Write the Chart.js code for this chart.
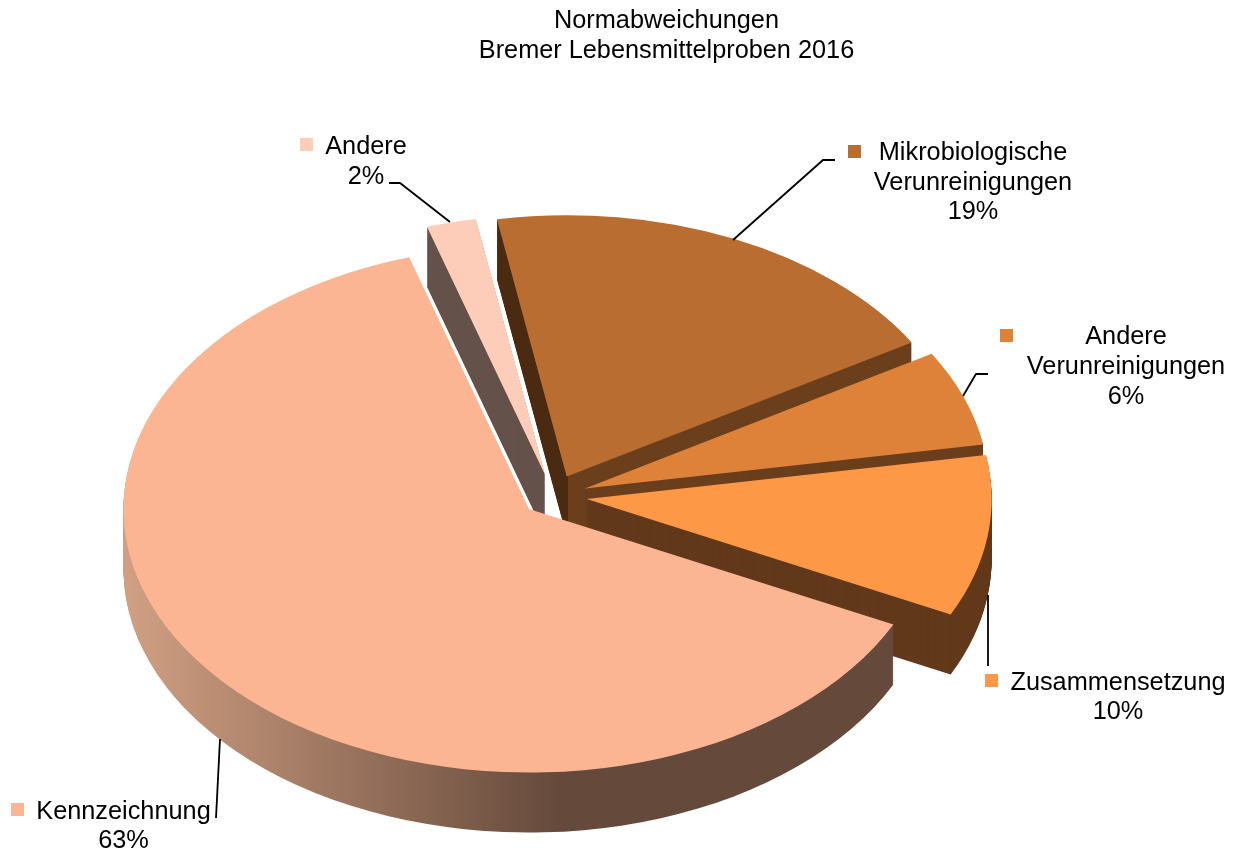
<!DOCTYPE html>
<html lang="de">
<head>
<meta charset="utf-8">
<title>Normabweichungen</title>
<style>html,body{margin:0;padding:0;background:#fff}canvas{display:block}</style>
<script src="https://cdn.jsdelivr.net/npm/chart.js@4"></script>
</head>
<body>
<canvas id="c" width="1233" height="852"></canvas>
<script>
const titleLines = ['Normabweichungen', 'Bremer Lebensmittelproben 2016'];
const categories = ['Kennzeichnung', 'Andere', 'Mikrobiologische Verunreinigungen', 'Andere Verunreinigungen', 'Zusammensetzung'];
const shares = [63, 2, 19.2, 5.9, 9.9];

const topColors = ['#FBB592', '#FDCDB9', '#B96D31', '#DE8239', '#FD9846'];

// geometry of the tilted pie (layout only)
const CX = 552, CY = 496, RADIUS = 404, TILT = 0.65, DEPTH = 60, EXPLODE = 33, ROTATION = 116;
const sliceNudge = [[2, -1], [1, 0], [1, 0], [2, 0], [2, 0]];
const sliceRadius = [405.5, 400, 402, 404, 405];

// label layout: lines, marker position, text centre, line centres, leader polyline
const labelLayout = [
  {lines:['Kennzeichnung'], marker:[11,803], cx:123.5, ys:[812,841], leader:[[220,739],[216,818]]},
  {lines:['Andere'], marker:[300,138], cx:366, ys:[147,177], leader:[[389,183],[400,183],[450,222]]},
  {lines:['Mikrobiologische','Verunreinigungen'], marker:[848,145], cx:973, ys:[153,183,212], leader:[[835,160],[823,160],[733,240]]},
  {lines:['Andere','Verunreinigungen'], marker:[1000,329], cx:1126, ys:[337,367,397], leader:[[988,374],[976,374],[963,396]]},
  {lines:['Zusammensetzung'], marker:[985,674], cx:1118, ys:[683,712], leader:[[988,595],[988,666]]}
];

function ghost(arc, i, fill) {
  const g = Object.create(arc);
  const mid = (arc.startAngle + arc.endAngle) / 2;
  g.x = arc.x + Math.cos(mid) * EXPLODE;
  g.y = arc.y + Math.sin(mid) * EXPLODE;
  g.outerRadius = sliceRadius[i];
  g.options = Object.assign({}, arc.options, {backgroundColor: fill, borderWidth: 0, offset: 0});
  return g;
}

function sideFill(ctx, i, arc) {
  const toLocal = x => arc.x + (x - CX);
  const mk = (x0, x1) => ctx.createLinearGradient(toLocal(x0), 0, toLocal(x1), 0);
  if (i === 0) {
    const g = mk(123, 560);
    g.addColorStop(0, '#D1A083');
    g.addColorStop(1, '#65493B');
    return g;
  }
  if (i === 1) return '#65524A';
  if (i === 2) {
    const g = mk(490, 610);
    const stop = (566.5 - 490) / 120;
    g.addColorStop(0, '#4A2B12');
    g.addColorStop(stop, '#4A2B12');
    g.addColorStop(stop, '#6B3F1C');
    g.addColorStop(1, '#6B3F1C');
    return g;
  }
  if (i === 3) return '#6B3F1C';
  return '#63391B';
}

const pie3d = {
  id: 'pie3d',
  beforeDatasetsDraw(chart) {
    const ctx = chart.ctx;
    const arcs = chart.getDatasetMeta(0).data;
    const ref = arcs[0];
    const project = (i, dy) => {
      ctx.translate(CX + sliceNudge[i][0], CY + sliceNudge[i][1] + dy);
      ctx.scale(1, TILT);
      ctx.translate(-ref.x, -ref.y);
    };
    // sides, back to front
    [1, 2, 3, 4, 0].forEach(i => {
      const g = ghost(arcs[i], i, sideFill(ctx, i, ref));
      for (let dy = DEPTH; dy >= 1; dy--) {
        ctx.save();
        project(i, dy);
        g.draw(ctx);
        ctx.restore();
      }
    });
    // top faces
    [1, 2, 3, 4, 0].forEach(i => {
      ctx.save();
      project(i, 0);
      ghost(arcs[i], i, topColors[i]).draw(ctx);
      ctx.restore();
    });
    return false;
  },
  afterDraw(chart) {
    const ctx = chart.ctx;
    ctx.save();
    ctx.font = '25.3px "Liberation Sans", Arial, sans-serif';
    ctx.textAlign = 'center';
    ctx.textBaseline = 'middle';
    labelLayout.forEach((l, i) => {
      ctx.beginPath();
      l.leader.forEach((p, k) => k ? ctx.lineTo(p[0], p[1]) : ctx.moveTo(p[0], p[1]));
      ctx.strokeStyle = '#000';
      ctx.lineWidth = 1.8;
      ctx.stroke();
      ctx.fillStyle = topColors[i];
      ctx.fillRect(l.marker[0], l.marker[1], 13, 13);
      ctx.fillStyle = '#000';
      l.lines.concat(Math.round(shares[i]) + '%').forEach((t, k) => ctx.fillText(t, l.cx, l.ys[k]));
    });
    ctx.restore();
  }
};

new Chart(document.getElementById('c'), {
  type: 'pie',
  data: {
    labels: categories,
    datasets: [{data: shares, backgroundColor: topColors, borderWidth: 0, hoverOffset: 0}]
  },
  options: {
    responsive: false,
    animation: false,
    rotation: ROTATION,
    radius: RADIUS,
    layout: {padding: {left: 100}},
    events: [],
    plugins: {
      legend: {display: false},
      tooltip: {enabled: false},
      title: {
        display: true,
        text: titleLines,
        color: '#000',
        font: {family: '"Liberation Sans", Arial, sans-serif', size: 25.3, weight: 'normal', lineHeight: 1.186},
        padding: {top: 6, bottom: 0}
      }
    }
  },
  plugins: [pie3d]
});
</script>
</body>
</html>
